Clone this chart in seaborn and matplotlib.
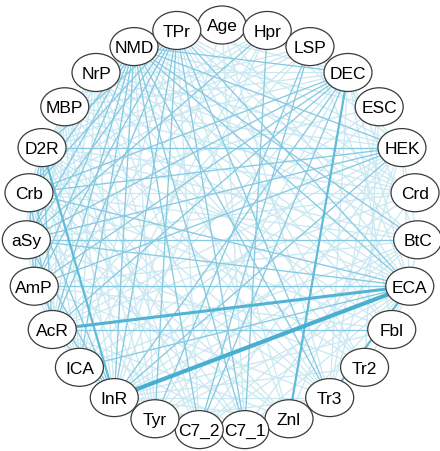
import numpy as np
import pandas as pd
import seaborn as sns
import matplotlib.pyplot as plt
from matplotlib.patches import Ellipse

# node names, clockwise from the top
nodes = ["Age", "Hpr", "LSP", "DEC", "ESC", "HEK", "Crd", "BtC", "ECA", "Fbl",
         "Tr2", "Tr3", "Znl", "C7_1", "C7_2", "Tyr", "InR", "ICA", "AcR", "AmP",
         "aSy", "Crb", "D2R", "MBP", "NrP", "NMD", "TPr"]

# edges (source, target, weight)
edges = [
    ("Age", "InR", 1), ("Age", "Tr3", 1), ("Age", "C7_1", 1), ("Age", "ECA", 1),
    ("Hpr", "C7_1", 2), ("Hpr", "AmP", 1), ("Hpr", "aSy", 2), ("Hpr", "D2R", 1),
    ("Hpr", "InR", 1), ("Hpr", "Crb", 1), ("Hpr", "ICA", 1), ("Hpr", "HEK", 1),
    ("LSP", "C7_2", 2), ("LSP", "Tyr", 2), ("LSP", "AcR", 1), ("LSP", "D2R", 1),
    ("LSP", "Crb", 1), ("LSP", "MBP", 1), ("LSP", "ECA", 1), ("LSP", "AmP", 1),
    ("LSP", "HEK", 1),
    ("DEC", "Znl", 3), ("DEC", "C7_2", 2), ("DEC", "InR", 2), ("DEC", "AcR", 2),
    ("DEC", "AmP", 2), ("DEC", "aSy", 2), ("DEC", "Crb", 2), ("DEC", "D2R", 1),
    ("DEC", "MBP", 1), ("DEC", "NrP", 1), ("DEC", "NMD", 2), ("DEC", "TPr", 1),
    ("DEC", "ECA", 1), ("DEC", "BtC", 1), ("DEC", "Tr3", 1), ("DEC", "ICA", 1),
    ("DEC", "Tyr", 1), ("DEC", "Fbl", 1),
    ("ESC", "Tr3", 1), ("ESC", "Tr2", 1), ("ESC", "InR", 1), ("ESC", "NMD", 1),
    ("ESC", "Crb", 1), ("ESC", "AcR", 1),
    ("HEK", "D2R", 2), ("HEK", "Crb", 2), ("HEK", "aSy", 2), ("HEK", "AmP", 2),
    ("HEK", "AcR", 1), ("HEK", "InR", 2), ("HEK", "ICA", 1), ("HEK", "Tyr", 1),
    ("HEK", "C7_2", 1), ("HEK", "Znl", 1), ("HEK", "Tr3", 1), ("HEK", "NMD", 2),
    ("HEK", "NrP", 1), ("HEK", "MBP", 1), ("HEK", "TPr", 1), ("HEK", "ECA", 1),
    ("HEK", "BtC", 1),
    ("Crd", "NMD", 1), ("Crd", "NrP", 1), ("Crd", "D2R", 1), ("Crd", "Crb", 1),
    ("Crd", "aSy", 1), ("Crd", "InR", 1), ("Crd", "AcR", 1), ("Crd", "C7_1", 1),
    ("Crd", "TPr", 1), ("Crd", "MBP", 1),
    ("BtC", "aSy", 2), ("BtC", "Crb", 1), ("BtC", "D2R", 1), ("BtC", "NMD", 2),
    ("BtC", "TPr", 1), ("BtC", "InR", 1), ("BtC", "ICA", 1), ("BtC", "C7_2", 1),
    ("BtC", "Tyr", 1), ("BtC", "AmP", 1), ("BtC", "NrP", 1), ("BtC", "ECA", 1),
    ("ECA", "InR", 5), ("ECA", "AcR", 4), ("ECA", "Tr3", 3), ("ECA", "AmP", 2),
    ("ECA", "aSy", 2), ("ECA", "Crb", 2), ("ECA", "D2R", 1), ("ECA", "MBP", 1),
    ("ECA", "NrP", 1), ("ECA", "NMD", 2), ("ECA", "TPr", 2), ("ECA", "ICA", 2),
    ("ECA", "Tyr", 1), ("ECA", "C7_1", 1), ("ECA", "C7_2", 1), ("ECA", "Znl", 1),
    ("ECA", "Fbl", 1), ("ECA", "Tr2", 1),
    ("Fbl", "AcR", 2), ("Fbl", "AmP", 1), ("Fbl", "Crb", 1), ("Fbl", "NMD", 1),
    ("Fbl", "TPr", 1), ("Fbl", "InR", 1), ("Fbl", "MBP", 1),
    ("Tr2", "aSy", 1), ("Tr2", "D2R", 1), ("Tr2", "NMD", 1), ("Tr2", "TPr", 1),
    ("Tr2", "InR", 1), ("Tr2", "NrP", 1),
    ("Tr3", "NMD", 2), ("Tr3", "TPr", 2), ("Tr3", "NrP", 1), ("Tr3", "MBP", 1),
    ("Tr3", "D2R", 1), ("Tr3", "Crb", 1), ("Tr3", "AmP", 1), ("Tr3", "InR", 1),
    ("Tr3", "Tyr", 1),
    ("Znl", "NMD", 1), ("Znl", "TPr", 1), ("Znl", "D2R", 1), ("Znl", "Crb", 1),
    ("Znl", "aSy", 1), ("Znl", "InR", 1), ("Znl", "AcR", 1),
    ("C7_1", "TPr", 2), ("C7_1", "NMD", 2), ("C7_1", "NrP", 1), ("C7_1", "D2R", 1),
    ("C7_1", "AcR", 1), ("C7_1", "InR", 1), ("C7_1", "Crb", 1),
    ("C7_2", "TPr", 1), ("C7_2", "NMD", 2), ("C7_2", "NrP", 1), ("C7_2", "MBP", 1),
    ("C7_2", "D2R", 1), ("C7_2", "InR", 1), ("C7_2", "ICA", 1),
    ("Tyr", "TPr", 2), ("Tyr", "NMD", 1), ("Tyr", "NrP", 1), ("Tyr", "MBP", 1),
    ("Tyr", "D2R", 1), ("Tyr", "Crb", 1), ("Tyr", "InR", 1),
    ("InR", "D2R", 3), ("InR", "Crb", 2), ("InR", "aSy", 2), ("InR", "AmP", 2),
    ("InR", "AcR", 2), ("InR", "ICA", 1), ("InR", "NMD", 2), ("InR", "TPr", 2),
    ("InR", "NrP", 1), ("InR", "MBP", 1),
    ("ICA", "NMD", 2), ("ICA", "TPr", 1), ("ICA", "NrP", 1), ("ICA", "MBP", 1),
    ("ICA", "D2R", 1), ("ICA", "Crb", 1), ("ICA", "aSy", 1), ("ICA", "AcR", 1),
    ("AcR", "NMD", 2), ("AcR", "TPr", 2), ("AcR", "NrP", 1), ("AcR", "MBP", 1),
    ("AcR", "D2R", 2), ("AcR", "Crb", 2), ("AcR", "aSy", 1), ("AcR", "AmP", 1),
    ("AmP", "NMD", 2), ("AmP", "TPr", 2), ("AmP", "NrP", 1), ("AmP", "MBP", 1),
    ("AmP", "D2R", 2), ("AmP", "Crb", 2), ("AmP", "aSy", 1),
    ("aSy", "NMD", 2), ("aSy", "TPr", 2), ("aSy", "NrP", 1), ("aSy", "MBP", 1),
    ("aSy", "D2R", 2), ("aSy", "Crb", 1),
    ("Crb", "NMD", 2), ("Crb", "TPr", 2), ("Crb", "NrP", 1), ("Crb", "MBP", 1),
    ("Crb", "D2R", 1),
    ("D2R", "NMD", 1), ("D2R", "TPr", 2), ("D2R", "NrP", 1),
    ("MBP", "TPr", 1), ("MBP", "NMD", 1),
    ("NrP", "TPr", 1),
    ("NMD", "TPr", 1),
]

# circle layout in pixel coordinates
cx, cy, rx, ry = 222, 229, 196, 203
ang = np.deg2rad(90 - np.arange(len(nodes)) * 360 / len(nodes))
pos = {n: (cx + rx * np.cos(a), cy - ry * np.sin(a)) for n, a in zip(nodes, ang)}

rows = []
for i, (s, t, w) in enumerate(edges):
    for n in (s, t):
        rows.append({"edge": i, "x": pos[n][0], "y": pos[n][1], "weight": w})
df = pd.DataFrame(rows)

pal = {1: "#c9e8f2", 2: "#86cae1", 3: "#5fbbd8", 4: "#52b4d4", 5: "#49afd1"}
sizes = {1: 0.9, 2: 0.95, 3: 1.6, 4: 2.2, 5: 3.0}

sns.set_style("white")
fig = plt.figure(figsize=(4.40, 4.52), dpi=100)
ax = fig.add_axes([0, 0, 1, 1])
df = df.sort_values(["weight", "edge"])
sns.lineplot(data=df, x="x", y="y", units="edge", estimator=None, hue="weight",
             size="weight", palette=pal, sizes=sizes, sort=False, legend=False, ax=ax)

for n in nodes:
    x, y = pos[n]
    ax.add_patch(Ellipse((x, y), 48, 38, facecolor="white", edgecolor="#3a3a3a",
                         lw=0.9, zorder=3))
    ax.text(x, y + 1, n, ha="center", va="center", fontsize=12.5,
            family="Liberation Sans", color="black", zorder=4)

ax.set_xlim(0, 440)
ax.set_ylim(452, 0)
ax.axis("off")
fig.savefig("out.png", dpi=100)
